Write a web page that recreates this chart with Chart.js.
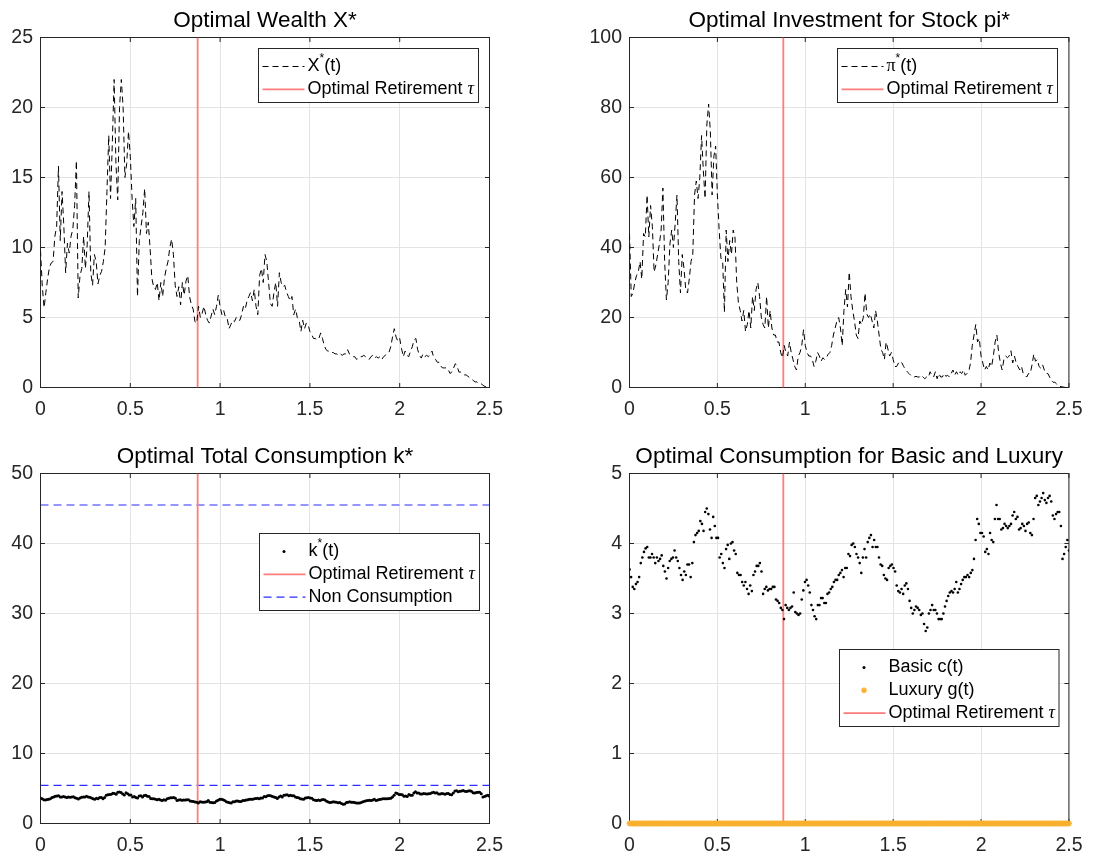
<!DOCTYPE html>
<html>
<head>
<meta charset="utf-8">
<title>Optimal consumption / investment</title>
<script src="https://cdn.jsdelivr.net/npm/chart.js@4.4.1/dist/chart.umd.min.js"></script>
<style>
  html, body { margin: 0; padding: 0; background: #fff; }
  body { width: 1093px; height: 856px; position: relative; overflow: hidden; }
  canvas { position: absolute; }
</style>
</head>
<body>
<canvas id="wealthChart" width="546" height="430" style="left:0;top:0"></canvas>
<canvas id="stockChart" width="547" height="430" style="left:546px;top:0"></canvas>
<canvas id="totalChart" width="546" height="426" style="left:0;top:430px"></canvas>
<canvas id="basicLuxChart" width="547" height="426" style="left:546px;top:430px"></canvas>
<script>
// ---- data ----
const tEnd = 2.5;
const retireTau = 0.875;
const nonConsumption = [45.5, 5.45];

// X*(t), step 0.01
const wealthX = [
  9.8, 7.2, 5.7, 6.8, 7.8, 8.6, 8.9, 9.0, 10.8, 11.5,
  15.8, 10.5, 14.0, 11.5, 8.2, 10.3, 9.6, 10.8, 11.3, 13.0,
  16.2, 6.4, 8.0, 8.5, 10.8, 8.5, 10.2, 14.0, 8.2, 7.3,
  9.5, 9.0, 7.4, 8.0, 8.3, 9.0, 10.0, 14.0, 18.0, 13.5,
  17.5, 22.0, 16.0, 13.4, 20.0, 22.0, 20.0, 15.0, 16.0, 18.3,
  16.5, 13.5, 11.5, 13.5, 6.5, 10.5, 11.5, 12.5, 14.2, 11.0,
  11.8, 10.0, 7.8, 7.2, 7.0, 7.5, 6.2, 7.5, 6.5, 7.8,
  8.5, 9.0, 10.0, 10.6, 9.5, 7.3, 6.5, 7.2, 5.9, 7.5,
  6.6, 7.6, 8.0, 6.5, 5.9, 5.6, 4.7, 4.6, 5.8, 5.0,
  5.3, 5.8, 5.2, 4.8, 4.6, 5.1, 5.6, 5.2, 5.8, 6.6,
  5.8, 5.2, 5.5, 5.0, 4.9, 4.2, 4.5, 4.8, 4.7, 5.0,
  4.8, 4.8, 5.2, 5.8, 5.6, 6.2, 6.5, 6.8, 6.2, 7.0,
  5.8, 5.2, 8.0, 8.5, 7.5, 9.5, 9.0, 7.5, 6.0, 5.8,
  6.8, 7.5, 5.8, 8.2, 7.5, 7.2, 7.3, 6.8, 6.5, 6.2,
  6.5, 5.2, 5.6, 5.0, 4.8, 4.0, 4.8, 4.2, 4.6, 4.5,
  4.0, 3.8, 3.5, 3.5, 3.4, 3.5, 3.9, 3.5, 3.0, 2.7,
  2.6, 2.6, 2.5, 2.5, 2.4, 2.4, 2.3, 2.4, 2.3, 2.4,
  2.4, 2.7, 2.4, 2.3, 2.2, 2.2, 2.0, 2.1, 2.2, 2.2,
  2.3, 2.2, 2.1, 2.0, 2.2, 2.3, 2.1, 2.2, 2.1, 2.2,
  2.0, 2.2, 2.3, 2.4, 2.5, 2.9, 3.6, 4.2, 3.6, 3.3,
  3.5, 2.8, 2.2, 2.6, 2.3, 2.2, 2.6, 2.9, 3.4, 3.5,
  2.7, 2.3, 2.1, 2.4, 2.2, 2.3, 2.2, 2.4, 2.6, 2.1,
  2.0, 1.8, 1.8, 1.5, 1.4, 1.4, 1.4, 1.3, 1.0, 1.1,
  1.4, 1.7, 1.5, 1.1, 1.1, 1.0, 0.9, 0.9, 0.8, 0.7,
  0.6, 0.5, 0.4, 0.4, 0.3, 0.3, 0.2, 0.1, 0.05, 0,
  0
];

// pi*(t), step 0.01
const stockPi = [
  44, 26, 27, 30, 32, 33, 36, 31, 44, 43,
  55, 43, 52, 46, 33, 35, 38, 41, 45, 57,
  36, 25, 30, 41, 45, 40, 47, 55, 36, 27,
  38, 34, 28, 27, 31, 36, 38, 55, 59, 54,
  60, 72, 62, 54, 75, 81, 73, 55, 66, 69,
  55, 45, 37, 36, 21.5, 45, 36, 42, 38, 45,
  43, 30, 24, 22, 19, 22, 16, 18, 22, 17,
  26, 22, 28, 30, 26, 20, 18, 17, 26, 17,
  22, 17, 15, 15, 13, 13, 10, 8.5, 12, 10,
  9, 13, 10, 8, 6, 5, 9, 10, 12, 16.5,
  12, 10, 9, 9, 8, 6, 7.5, 10, 9, 7.5,
  8.5, 8, 8.5, 9.5, 10, 12, 15, 17, 19, 20,
  17, 12, 22, 28, 23, 33, 26, 22, 19, 15,
  14, 19, 18, 20, 27, 21, 20, 21, 19, 17,
  22, 19, 15, 11, 10, 8, 13, 11, 9, 10,
  8, 6, 6, 7, 7.5, 7, 6, 5, 4.5, 4,
  3.5, 3, 3, 3.2, 3, 3, 3.5, 3, 2.5, 3,
  2.8, 4.5, 3.5, 3, 4.5, 2.5, 4, 3, 3, 4,
  3.2, 3.5, 3, 4, 5, 3.5, 4.5, 3.5, 4.5, 4,
  5, 3.5, 4, 4.5, 7, 12, 15, 18, 13, 14,
  9, 7, 5, 6, 5, 7, 6, 9, 13, 15,
  10, 7, 5, 8, 9, 8.5, 9, 10.5, 7, 9,
  7, 6, 5, 6, 4, 3.5, 3, 4, 4, 6.5,
  9.5, 7.5, 8, 6, 5.5, 6.5, 5, 4, 4, 3,
  2, 1.5, 1.5, 1, 0.5, 0.3, 0.2, 0.1, 0, 0,
  0
];

// basic consumption c(t)
const basicC = [
  3.63, 3.52, 3.38, 3.35, 3.42, 3.45, 3.52, 3.72, 3.80, 3.88,
  3.93, 3.95, 3.80, 3.80, 3.85, 3.80, 3.72, 3.80, 3.75, 3.78,
  3.83, 3.68, 3.60, 3.50, 3.65, 3.75, 3.78, 3.80, 3.90, 3.80,
  3.75, 3.65, 3.55, 3.48, 3.60, 3.55, 3.70, 3.70, 3.52, 3.72,
  4.02, 4.12, 4.15, 4.18, 4.32, 4.28, 4.18, 4.45, 4.50, 4.42,
  4.20, 4.08, 4.38, 4.25, 4.08, 4.08, 3.80, 3.85, 3.72, 3.65,
  3.92, 3.98, 3.78, 4.00, 4.02, 3.90, 3.85, 3.58, 3.55, 3.55,
  3.45, 3.40, 3.45, 3.35, 3.28, 3.40, 3.32, 3.55, 3.60, 3.68,
  3.68, 3.72, 3.60, 3.28, 3.35, 3.38, 3.33, 3.35, 3.35, 3.38,
  3.38, 3.20, 3.18, 3.15, 3.08, 3.05, 2.92, 3.12, 3.08, 3.05,
  3.08, 3.10, 3.30, 3.02, 3.00, 2.98, 3.00, 3.20, 3.33, 3.45,
  3.48, 3.40, 3.30, 3.12, 3.05, 2.96, 2.92, 3.12, 3.12, 3.22,
  3.22, 3.15, 3.15, 3.28, 3.30, 3.35, 3.38, 3.45, 3.48, 3.48,
  3.55, 3.58, 3.62, 3.52, 3.65, 3.65, 3.85, 3.82, 3.98, 4.00,
  3.95, 3.85, 3.80, 3.72, 3.58, 3.80, 3.92, 3.80, 4.02, 4.08,
  4.12, 3.95, 4.05, 3.95, 3.95, 3.80, 3.70, 3.68, 3.55, 3.50,
  3.48, 3.65, 3.68, 3.70, 3.65, 3.60, 3.40, 3.32, 3.30, 3.35,
  3.28, 3.40, 3.43, 3.35, 3.18, 3.08, 3.00, 3.05, 3.10, 3.08,
  3.05, 2.98, 3.00, 2.85, 2.75, 2.80, 3.00, 3.05, 3.12, 3.05,
  3.05, 3.00, 2.92, 2.92, 2.92, 3.00, 3.10, 3.18, 3.25, 3.30,
  3.32, 3.30, 3.35, 3.45, 3.30, 3.35, 3.42, 3.48, 3.52, 3.52,
  3.55, 3.52, 3.58, 3.62, 3.78, 4.05, 4.35, 4.28, 4.15, 4.15,
  4.10, 3.88, 3.92, 3.85, 4.15, 4.05, 4.02, 4.35, 4.55, 4.35,
  4.35, 4.20, 4.22, 4.28, 4.25, 4.22, 4.25, 4.28, 4.40, 4.45,
  4.35, 4.38, 4.20, 4.22, 4.28, 4.25, 4.18, 4.28, 4.30, 4.15,
  4.12, 4.35, 4.65, 4.68, 4.55, 4.60, 4.65, 4.72, 4.62, 4.58,
  4.65, 4.68, 4.60, 4.40, 4.35, 4.42, 4.45, 4.45, 4.25, 3.78,
  3.85, 3.95, 4.05, 3.90
];

// luxury consumption g(t): zero over the whole horizon
const luxuryG = [
  0, 0, 0, 0, 0, 0, 0, 0, 0, 0, 0, 0, 0, 0, 0, 0, 0, 0, 0, 0,
  0, 0, 0, 0, 0, 0, 0, 0, 0, 0, 0, 0, 0, 0, 0, 0, 0, 0, 0, 0,
  0, 0, 0, 0, 0, 0, 0, 0, 0, 0, 0, 0, 0, 0, 0, 0, 0, 0, 0, 0,
  0, 0, 0, 0, 0, 0, 0, 0, 0, 0, 0, 0, 0, 0, 0, 0, 0, 0, 0, 0,
  0, 0, 0, 0, 0, 0, 0, 0, 0, 0, 0, 0, 0, 0, 0, 0, 0, 0, 0, 0,
  0, 0, 0, 0, 0, 0, 0, 0, 0, 0, 0, 0, 0, 0, 0, 0, 0, 0, 0, 0,
  0, 0, 0, 0, 0, 0, 0, 0, 0, 0, 0, 0, 0, 0, 0, 0, 0, 0, 0, 0,
  0, 0, 0, 0, 0, 0, 0, 0, 0, 0, 0, 0, 0, 0, 0, 0, 0, 0, 0, 0,
  0, 0, 0, 0, 0, 0, 0, 0, 0, 0, 0, 0, 0, 0, 0, 0, 0, 0, 0, 0,
  0, 0, 0, 0, 0, 0, 0, 0, 0, 0, 0, 0, 0, 0, 0, 0, 0, 0, 0, 0,
  0, 0, 0, 0, 0, 0, 0, 0, 0, 0, 0, 0, 0, 0, 0, 0, 0, 0, 0, 0,
  0, 0, 0, 0, 0, 0, 0, 0, 0, 0, 0, 0, 0, 0, 0, 0, 0, 0, 0, 0,
  0, 0, 0, 0, 0, 0, 0, 0, 0, 0, 0, 0, 0, 0, 0, 0, 0, 0, 0, 0,
  0, 0, 0, 0, 0, 0, 0, 0, 0, 0, 0, 0, 0, 0
];

// total consumption k = c + g
const totalK = basicC.map((c, i) => c + luxuryG[i]);

// ---- styling ----
const SANS = '"Liberation Sans", Arial, Helvetica, sans-serif';
const SERIF = '"Liberation Serif", "DejaVu Serif", serif';
const AXIS_COLOR = '#262626';
const GRID_COLOR = '#e3e3e3';
const RED = 'rgb(255, 125, 125)';
const RED_W = 1.8;
const BLUE = 'rgb(45, 45, 255)';
const ORANGE = 'rgb(250, 176, 45)';

Chart.defaults.font.family = SANS;
Chart.defaults.color = AXIS_COLOR;

// time grid t = 0 .. tEnd evenly spread over the samples
const toPoints = arr => arr.map((v, i) => ({ x: i * tEnd / (arr.length - 1), y: v }));
const retireLine = yMax => ({
  data: [{ x: retireTau, y: 0 }, { x: retireTau, y: yMax }],
  showLine: true, borderColor: RED, borderWidth: RED_W, pointRadius: 0
});

// MATLAB-like legend box drawn inside the axes
function drawLegend(ctx, area, lg) {
  const rowH = 22.8;
  const w = lg.width;
  const h = lg.items.length * rowH + 8.5;
  const left = Math.round(area.right - lg.right - w) + 0.5;
  const top = Math.round(area.top + lg.top) + 0.5;
  ctx.fillStyle = '#fff';
  ctx.fillRect(left, top, w, h);
  ctx.strokeStyle = AXIS_COLOR;
  ctx.lineWidth = 1;
  ctx.setLineDash([]);
  ctx.strokeRect(left, top, w, Math.round(h));

  lg.items.forEach((it, k) => {
    const cy = top + 18 + k * rowH;
    const x0 = left + 4, x1 = left + 46, xm = left + 24.5;
    ctx.save();
    if (it.kind === 'line') {
      ctx.setLineDash(it.dash || []);
      ctx.strokeStyle = it.color;
      ctx.lineWidth = it.width || 1;
      ctx.beginPath();
      ctx.moveTo(x0, cy);
      ctx.lineTo(x1, cy);
      ctx.stroke();
    } else if (it.kind === 'dot') {
      ctx.fillStyle = it.color;
      ctx.beginPath();
      ctx.arc(xm, cy, 1.5, 0, Math.PI * 2);
      ctx.fill();
    } else if (it.kind === 'star') {
      ctx.strokeStyle = it.color;
      ctx.lineWidth = 1.3;
      ctx.beginPath();
      for (let a = 0; a < 4; a++) {
        const ang = a * Math.PI / 4;
        ctx.moveTo(xm - 3 * Math.cos(ang), cy - 3 * Math.sin(ang));
        ctx.lineTo(xm + 3 * Math.cos(ang), cy + 3 * Math.sin(ang));
      }
      ctx.stroke();
    }
    ctx.restore();

    // label, with superscript and greek pieces
    let tx = left + 49;
    ctx.fillStyle = '#000';
    ctx.textBaseline = 'middle';
    ctx.textAlign = 'left';
    it.text.forEach(s => {
      const seg = typeof s === 'string' ? { t: s } : s;
      if (seg.sup) ctx.font = '12px ' + SANS;
      else if (seg.greek) ctx.font = (seg.italic ? 'italic ' : '') + '18px ' + SERIF;
      else ctx.font = '18px ' + SANS;
      ctx.fillText(seg.t, tx, seg.sup ? cy - 8 : cy);
      tx += ctx.measureText(seg.t).width;
    });
  });
}

// box around the axes with inward ticks (under the data, like MATLAB), legend on top
function matlabAxes(legend) {
  return {
    id: 'matlabAxes',
    beforeDatasetsDraw(chart) {
      const { ctx, chartArea: a, scales } = chart;
      const tk = 4.5;
      ctx.save();
      ctx.strokeStyle = AXIS_COLOR;
      ctx.lineWidth = 1;
      ctx.beginPath();
      scales.x.ticks.forEach(t => {
        const px = scales.x.getPixelForValue(t.value);
        ctx.moveTo(px, a.bottom); ctx.lineTo(px, a.bottom - tk);
        ctx.moveTo(px, a.top); ctx.lineTo(px, a.top + tk);
      });
      scales.y.ticks.forEach(t => {
        const py = scales.y.getPixelForValue(t.value);
        ctx.moveTo(a.left, py); ctx.lineTo(a.left + tk, py);
        ctx.moveTo(a.right, py); ctx.lineTo(a.right - tk, py);
      });
      ctx.stroke();
      ctx.strokeRect(a.left, a.top, a.right - a.left, a.bottom - a.top);
      ctx.restore();
    },
    afterDraw(chart) {
      if (!legend) return;
      chart.ctx.save();
      drawLegend(chart.ctx, chart.chartArea, legend);
      chart.ctx.restore();
    }
  };
}

function makePanel(id, p) {
  const canvas = document.getElementById(id);
  const W = canvas.width, H = canvas.height;
  const [L, T, R, B] = p.area;
  const titleLine = 22.5 * 1.2;
  const padTop = p.titleMid - titleLine / 2;
  const tickFont = { size: 19.5 };
  try {
    return new Chart(canvas, {
      type: 'scatter',
      data: { datasets: p.datasets },
      options: {
        responsive: false,
        animation: false,
        events: [],
        layout: { padding: { left: 0, right: W - R, top: padTop, bottom: H - B - 30 } },
        scales: {
          x: {
            type: 'linear', min: 0, max: tEnd,
            afterFit: s => { s.height = 30; },
            ticks: {
              stepSize: 0.5, padding: 10.5, color: AXIS_COLOR, font: tickFont, maxRotation: 0,
              callback: v => String(Number(v))
            },
            grid: { color: GRID_COLOR, drawTicks: false },
            border: { display: false }
          },
          y: {
            min: 0, max: p.yMax,
            afterFit: s => { s.width = L; },
            ticks: { stepSize: p.yStep, padding: 7.5, color: AXIS_COLOR, font: tickFont },
            grid: { color: GRID_COLOR, drawTicks: false },
            border: { display: false }
          }
        },
        plugins: {
          legend: { display: false },
          tooltip: { enabled: false },
          title: {
            display: true, fullSize: false, text: p.title, color: '#000',
            font: { size: 22.5, weight: 'normal', lineHeight: 1.2 },
            padding: { top: 0, bottom: T - padTop - titleLine }
          }
        }
      },
      plugins: [matlabAxes(p.legend)]
    });
  } catch (e) {
    console.error('chart failed: ' + id, e);
  }
}

const tauText = ['Optimal Retirement ', { t: 'τ', greek: true, italic: true }];

// Optimal Wealth X*
makePanel('wealthChart', {
  area: [40.5, 37.5, 489.5, 387.5], titleMid: 21,
  title: 'Optimal Wealth X*', yMax: 25, yStep: 5,
  datasets: [
    { data: toPoints(wealthX), showLine: true, borderColor: '#000', borderWidth: 1,
      borderDash: [6, 4], pointRadius: 0 },
    retireLine(25)
  ],
  legend: { right: 11.5, top: 10.2, width: 220, items: [
    { kind: 'line', color: '#000', dash: [6, 4], text: ['X', { t: '*', sup: true }, '(t)'] },
    { kind: 'line', color: RED, width: RED_W, text: tauText }
  ] }
});

// Optimal Investment for Stock pi*
makePanel('stockChart', {
  area: [83.5, 37.5, 531.5, 387.5], titleMid: 21,
  title: 'Optimal Investment for Stock pi*', yMax: 100, yStep: 20,
  datasets: [
    { data: toPoints(stockPi), showLine: true, borderColor: '#000', borderWidth: 1,
      borderDash: [6, 4], pointRadius: 0 },
    retireLine(100)
  ],
  legend: { right: 11.5, top: 10.2, width: 220, items: [
    { kind: 'line', color: '#000', dash: [6, 4], text: [{ t: 'π', greek: true }, { t: '*', sup: true }, '(t)'] },
    { kind: 'line', color: RED, width: RED_W, text: tauText }
  ] }
});

// Optimal Total Consumption k*
makePanel('totalChart', {
  area: [40.5, 43.5, 489.5, 393.5], titleMid: 27,
  title: 'Optimal Total Consumption k*', yMax: 50, yStep: 10,
  datasets: [
    { data: toPoints(totalK), pointRadius: 1.5, pointBackgroundColor: '#000',
      pointBorderWidth: 0, pointStyle: 'circle' },
    retireLine(50),
    ...nonConsumption.map(v => ({
      data: [{ x: 0, y: v }, { x: tEnd, y: v }], showLine: true,
      borderColor: BLUE, borderWidth: 1.2, borderDash: [8, 5], pointRadius: 0
    }))
  ],
  legend: { right: 11, top: 59.8, width: 220, items: [
    { kind: 'dot', color: '#000', text: ['k', { t: '*', sup: true }, '(t)'] },
    { kind: 'line', color: RED, width: RED_W, text: tauText },
    { kind: 'line', color: BLUE, width: 1.2, dash: [8, 5], text: ['Non Consumption'] }
  ] }
});

// Optimal Consumption for Basic and Luxury
makePanel('basicLuxChart', {
  area: [83.5, 43.5, 531.5, 393.5], titleMid: 27,
  title: 'Optimal Consumption for Basic and Luxury', yMax: 5, yStep: 1,
  datasets: [
    { data: toPoints(basicC), pointRadius: 1.3, pointBackgroundColor: '#000',
      pointBorderWidth: 0, pointStyle: 'circle' },
    { data: toPoints(luxuryG), pointRadius: 3, pointStyle: 'star',
      pointBorderColor: ORANGE, pointBackgroundColor: ORANGE, pointBorderWidth: 1.4, clip: false },
    retireLine(5)
  ],
  legend: { right: 10, top: 175.8, width: 219.5, items: [
    { kind: 'dot', color: '#000', text: ['Basic c(t)'] },
    { kind: 'star', color: ORANGE, text: ['Luxury g(t)'] },
    { kind: 'line', color: RED, width: RED_W, text: tauText }
  ] }
});
</script>
</body>
</html>
